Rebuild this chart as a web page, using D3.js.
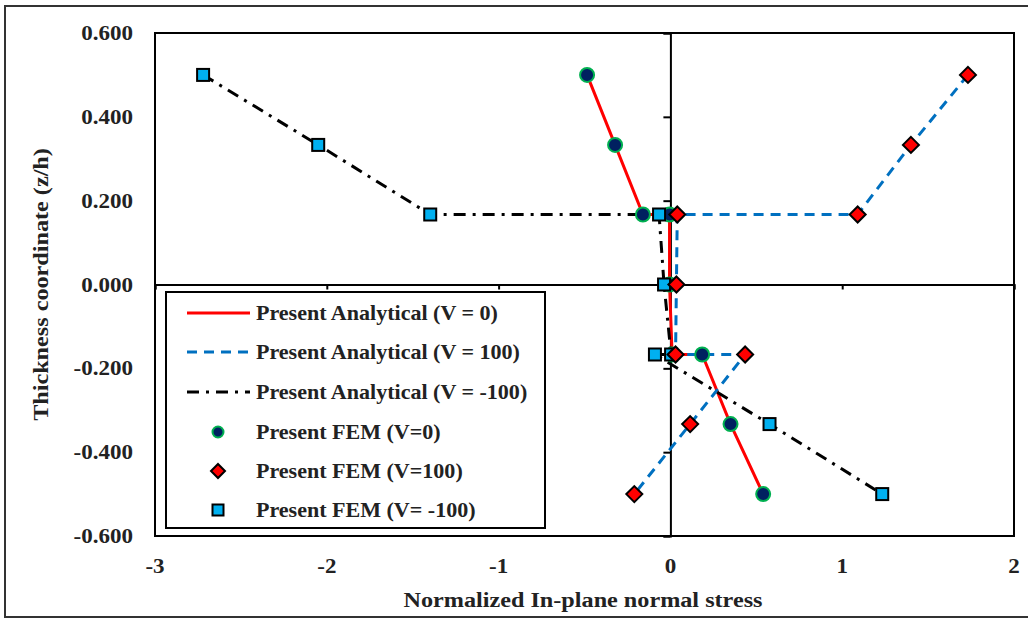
<!DOCTYPE html>
<html>
<head>
<meta charset="utf-8">
<script src="https://cdn.jsdelivr.net/npm/d3@7"></script>
<style>
  body { margin: 0; background: #fff; }
  text { font-family: "Liberation Serif", "Times New Roman", serif; font-weight: bold; fill: #222; }
</style>
</head>
<body>
<div id="chart"></div>
<script>
// thickness coordinate z/h, shared by all series
const zh = [0.5, 0.333, 0.167, 0.167, 0, -0.167, -0.167, -0.333, -0.5];
// normalized in-plane normal stress
const stressV0 = [-0.485, -0.322, -0.16, -0.005, -0.005, 0.01, 0.185, 0.35, 0.54];
const stressV100 = [1.732, 1.40, 1.09, 0.04, 0.035, 0.03, 0.435, 0.115, -0.21];
const stressVm100 = [-2.72, -2.05, -1.398, -0.066, -0.037, 0.004, -0.09, 0.577, 1.233];
const xTicks = [-3, -2, -1, 0, 1, 2];
const yTicks = [0.6, 0.4, 0.2, 0, -0.2, -0.4, -0.6];

const width = 1028, height = 620;
const margin = {left: 155, right: 14, top: 33, bottom: 84};

const svg = d3.select("#chart").append("svg")
    .attr("width", width)
    .attr("height", height);

// outer frame
svg.append("rect")
    .attr("x", 5).attr("y", 6)
    .attr("width", 1040).attr("height", 611)
    .attr("fill", "none").attr("stroke", "#333").attr("stroke-width", 2);

const x = d3.scaleLinear().domain([-3, 2]).range([margin.left, width - margin.right]);
const y = d3.scaleLinear().domain([-0.6, 0.6]).range([height - margin.bottom, margin.top]);

// plot area border
svg.append("rect")
    .attr("x", x(-3)).attr("y", y(0.6))
    .attr("width", x(2) - x(-3)).attr("height", y(-0.6) - y(0.6))
    .attr("fill", "none").attr("stroke", "#000").attr("stroke-width", 2);

// axes crossing at zero
const gx = svg.append("g").attr("transform", `translate(0,${y(0)})`)
    .call(d3.axisBottom(x).tickValues(xTicks).tickSize(5).tickFormat(""));
const gy = svg.append("g").attr("transform", `translate(${x(0)},0)`)
    .call(d3.axisLeft(y).tickValues(yTicks).tickSize(7).tickFormat(""));
[gx, gy].forEach(g => {
  g.select(".domain").attr("stroke", "#000").attr("stroke-width", 2);
  g.selectAll(".tick line").attr("stroke", "#000").attr("stroke-width", 2);
});

// tick labels at the low side (text is a bit wide in the original, hence scale)
svg.selectAll(".xlab").data(xTicks).enter().append("text")
    .attr("transform", d => `translate(${x(d)},573) scale(1.15,1)`)
    .attr("text-anchor", "middle").attr("font-size", 20)
    .text(d => d);
svg.selectAll(".ylab").data(yTicks).enter().append("text")
    .attr("transform", d => `translate(133,${y(d) + 7}) scale(1.15,1)`)
    .attr("text-anchor", "end").attr("font-size", 20)
    .text(d => d.toFixed(3));

svg.append("text")
    .attr("transform", "translate(583,607) scale(1.1,1)")
    .attr("text-anchor", "middle").attr("font-size", 22)
    .text("Normalized In-plane normal stress");
svg.append("text")
    .attr("transform", `translate(48,${y(0)}) rotate(-90) scale(1.1,1)`)
    .attr("text-anchor", "middle").attr("font-size", 22)
    .text("Thickness coordinate (z/h)");

const series = [
  {vals: stressV0, color: "#ff0000", dash: null},
  {vals: stressV100, color: "#0070c0", dash: "10,7"},
  {vals: stressVm100, color: "#000", dash: "12,7,3,7"}
];

const line = d3.line().x(d => x(d[0])).y(d => y(d[1]));
series.forEach(s => {
  svg.append("path")
      .datum(s.vals.map((v, i) => [v, zh[i]]))
      .attr("d", line)
      .attr("fill", "none")
      .attr("stroke", s.color)
      .attr("stroke-width", 3)
      .attr("stroke-dasharray", s.dash);
});

function circleMark(g, cx, cy, r) {
  g.append("circle").attr("cx", cx).attr("cy", cy).attr("r", r)
      .attr("fill", "#002060").attr("stroke", "#00b050").attr("stroke-width", 2);
}
function squareMark(g, cx, cy, s) {
  g.append("rect").attr("x", cx - s / 2).attr("y", cy - s / 2)
      .attr("width", s).attr("height", s)
      .attr("fill", "#00b0f0").attr("stroke", "#000").attr("stroke-width", 2);
}
function diamondMark(g, cx, cy, s) {
  g.append("path")
      .attr("d", `M${cx},${cy - s}L${cx + s},${cy}L${cx},${cy + s}L${cx - s},${cy}Z`)
      .attr("fill", "#ff0000").attr("stroke", "#000").attr("stroke-width", 2);
}

const marks = svg.append("g");
stressV0.forEach((v, i) => circleMark(marks, x(v), y(zh[i]), 7));
stressVm100.forEach((v, i) => squareMark(marks, x(v), y(zh[i]), 12));
stressV100.forEach((v, i) => diamondMark(marks, x(v), y(zh[i]), 8));

// legend
const leg = svg.append("g");
leg.append("rect")
    .attr("x", 166).attr("y", 292).attr("width", 379).attr("height", 236)
    .attr("fill", "#fff").attr("stroke", "#000").attr("stroke-width", 2);
const legendLabels = [
  "Present Analytical (V = 0)",
  "Present Analytical (V = 100)",
  "Present Analytical (V = -100)",
  "Present FEM (V=0)",
  "Present FEM (V=100)",
  "Present FEM (V= -100)"
];
const rowY = [313, 352, 392, 432, 471, 510];
legendLabels.forEach((t, i) => {
  const ly = rowY[i];
  if (i < 3) {
    leg.append("line")
        .attr("x1", 187).attr("x2", 250).attr("y1", ly).attr("y2", ly)
        .attr("stroke", series[i].color).attr("stroke-width", 3)
        .attr("stroke-dasharray", series[i].dash);
  } else if (i === 3) {
    circleMark(leg, 218, ly, 5.5);
  } else if (i === 4) {
    diamondMark(leg, 218, ly, 7);
  } else {
    squareMark(leg, 218, ly, 11);
  }
  leg.append("text")
      .attr("transform", `translate(256,${ly + 7}) scale(1.05,1)`)
      .attr("font-size", 21)
      .text(t);
});
</script>
</body>
</html>
